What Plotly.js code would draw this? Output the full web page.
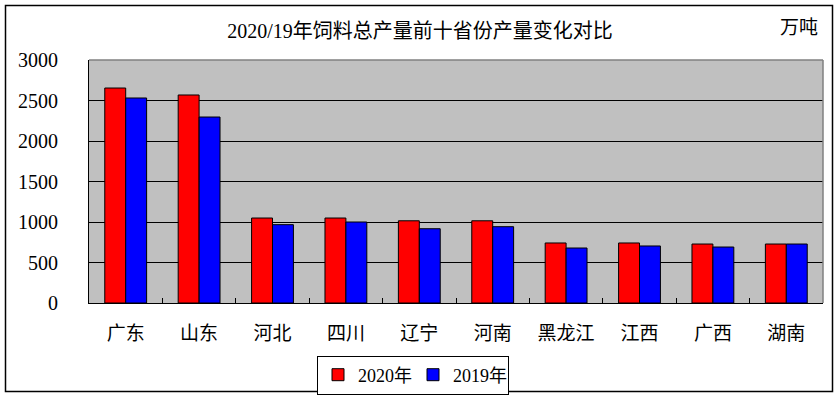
<!DOCTYPE html>
<html>
<head>
<meta charset="utf-8">
<script src="https://cdn.plot.ly/plotly-3.0.1.min.js"></script>
<style>
html,body{margin:0;padding:0;background:#fff;}
#chart{width:840px;height:398px;}
</style>
</head>
<body>
<div id="chart"></div>
<script>
var categories = ["广东","山东","河北","四川","辽宁","河南","黑龙江","江西","广西","湖南"];
var values2020 = [2654, 2568, 1049, 1049, 1015, 1015, 741, 741, 728, 728];
var values2019 = [2531, 2296, 967, 1000, 917, 942, 679, 704, 691, 728];
var yTicks = [0, 500, 1000, 1500, 2000, 2500, 3000];
var seriesNames = ["2020年", "2019年"];

var FONT = "Liberation Serif, Noto Sans CJK SC, serif";

var traces = [
  {type:"bar", name:seriesNames[0], x:categories, y:values2020,
   marker:{color:"#ff0000", line:{color:"#000", width:1}}},
  {type:"bar", name:seriesNames[1], x:categories, y:values2019,
   marker:{color:"#0000ff", line:{color:"#000", width:1}}}
];

// plot area: x 89..823, y 60..303
var L=89, R=823, T=60, B=303;
function px(x){return (x-L)/(R-L);}
function py(y){return (B-y)/(B-T);}

var layout = {
  width:840, height:398,
  margin:{l:L, r:840-R, t:T, b:398-B, pad:0, autoexpand:false},
  paper_bgcolor:"#fff",
  plot_bgcolor:"#c0c0c0",
  font:{family:FONT, size:20, color:"#000"},
  barmode:"group",
  bargap:0.43,
  bargroupgap:0,
  showlegend:true,
  title:{text:"2020/19年饲料总产量前十省份产量变化对比", font:{family:FONT,size:20,color:"#000"},
         x:0.5, xref:"container", xanchor:"center", y:1-31/398, yref:"container", yanchor:"middle"},
  xaxis:{type:"category", showline:true, linecolor:"#000", linewidth:1,
         ticks:"inside", tickson:"boundaries", ticklen:5, tickcolor:"#000", tickwidth:1,
         showgrid:false, ticklabelstandoff:13, tickfont:{family:FONT,size:19}},
  yaxis:{range:[0,3000], tickvals:yTicks, ticktext:yTicks.map(String),
         showline:true, linecolor:"#000", linewidth:1,
         ticks:"inside", ticklen:6, tickcolor:"#000",
         showgrid:true, gridcolor:"#000", gridwidth:1, zeroline:false,
         ticklabelstandoff:26, tickfont:{family:FONT,size:20}},
  legend:{orientation:"h", x:px(317), xanchor:"left", y:py(375), yanchor:"middle",
          bgcolor:"#fff", bordercolor:"#000", borderwidth:1,
          font:{family:FONT,size:18}, itemwidth:30, traceorder:"normal",
          entrywidth:50, entrywidthmode:"pixels", valign:"middle"},
  annotations:[
    {text:"万吨", xref:"paper", yref:"paper", x:px(799), y:py(28), xanchor:"center", yanchor:"middle",
     showarrow:false, font:{family:FONT,size:19,color:"#000"}}
  ],
  shapes:[
    {type:"line", xref:"paper", yref:"paper", x0:0, x1:1, y0:1, y1:1, line:{color:"#808080", width:1.5}},
    {type:"line", xref:"paper", yref:"paper", x0:1, x1:1, y0:0, y1:1, line:{color:"#808080", width:1.5}},
    {type:"rect", xref:"paper", yref:"paper", x0:px(5.5), x1:px(832.5), y0:py(391.5), y1:py(5.5),
     line:{color:"#000", width:1.5}, fillcolor:"rgba(0,0,0,0)"}
  ]
};

Plotly.newPlot("chart", traces, layout, {displayModeBar:false, staticPlot:true});
</script>
</body>
</html>
